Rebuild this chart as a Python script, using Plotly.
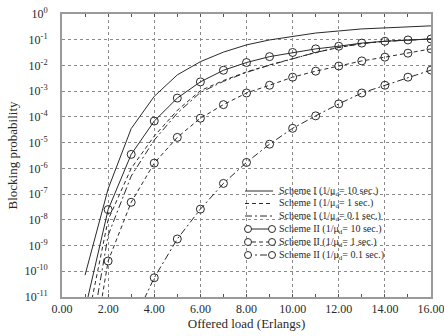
import plotly.graph_objects as go

# Offered load (Erlangs)
load = [1, 2, 3, 4, 5, 6, 7, 8, 9, 10, 11, 12, 13, 14, 15, 16]
load_II_01 = [3, 4, 5, 6, 7, 8, 9, 10, 11, 12, 13, 14, 15, 16]

# Blocking probability
scheme1_10s = [7.1e-11, 1.6e-7, 3.5e-5, 6.3e-4, 4.3e-3, 1.4e-2, 3.3e-2, 6.3e-2,
               9.8e-2, 0.138, 0.182, 0.219, 0.263, 0.288, 0.316, 0.347]
scheme1_1s = [4.0e-13, 1.0e-8, 1.0e-6, 1.8e-5, 1.8e-4, 1.05e-3, 2.6e-3, 5.6e-3,
              1.05e-2, 1.8e-2, 3.2e-2, 5.0e-2, 7.1e-2, 8.7e-2, 9.8e-2, 0.107]
scheme1_01s = [1.6e-14, 2.5e-9, 5.0e-7, 1.26e-5, 1.4e-4, 8.9e-4, 2.4e-3, 5.4e-3,
               1.02e-2, 1.78e-2, 3.2e-2, 5.0e-2, 7.1e-2, 8.7e-2, 9.8e-2, 0.107]
scheme2_10s = [3.2e-12, 2.5e-8, 3.5e-6, 6.9e-5, 5.4e-4, 2.3e-3, 6.5e-3, 1.3e-2,
               2.2e-2, 3.2e-2, 4.4e-2, 5.6e-2, 7.4e-2, 8.7e-2, 9.8e-2, 0.107]
scheme2_1s = [1.0e-15, 2.5e-10, 4.8e-8, 1.6e-6, 1.6e-5, 8.9e-5, 3.0e-4, 8.5e-4,
              1.7e-3, 3.5e-3, 6.0e-3, 9.5e-3, 1.5e-2, 2.1e-2, 3.0e-2, 4.4e-2]
scheme2_01s = [7.1e-13, 5.6e-11, 1.8e-9, 2.6e-8, 2.6e-7, 1.7e-6, 8.7e-6, 3.6e-5,
               1.1e-4, 3.2e-4, 8.5e-4, 1.7e-3, 3.5e-3, 6.6e-3]

legend_labels = [
    "Scheme I (1/μ<sub>d</sub>= 10 sec.)",
    "Scheme I (1/μ<sub>d</sub>= 1 sec.)",
    "Scheme I (1/μ<sub>d</sub>= 0.1 sec.)",
    "Scheme II (1/μ<sub>d</sub>= 10 sec.)",
    "Scheme II (1/μ<sub>d</sub>= 1 sec.)",
    "Scheme II (1/μ<sub>d</sub>= 0.1 sec.)",
]
y_tickvals = [1e-11, 1e-10, 1e-9, 1e-8, 1e-7, 1e-6, 1e-5, 1e-4, 1e-3, 1e-2, 1e-1, 1]
y_ticktext = ["10<sup>-11</sup>", "10<sup>-10</sup>", "10<sup>-9</sup>", "10<sup>-8</sup>",
              "10<sup>-7</sup>", "10<sup>-6</sup>", "10<sup>-5</sup>", "10<sup>-4</sup>",
              "10<sup>-3</sup>", "10<sup>-2</sup>", "10<sup>-1</sup>", "10<sup>0</sup>"]
x_tickvals = [0, 2, 4, 6, 8, 10, 12, 14, 16]

LC = "#2a2a2a"
FONT = "Liberation Serif"
DASH = "4px,3px"
DASHDOT = "7px,3px,2px,3px"

series = [
    (load, scheme1_10s, "solid", False),
    (load, scheme1_1s, DASH, False),
    (load, scheme1_01s, DASHDOT, False),
    (load, scheme2_10s, "solid", True),
    (load, scheme2_1s, DASH, True),
    (load_II_01, scheme2_01s, DASHDOT, True),
]

fig = go.Figure()
for (xs, ys, dash, mk), name in zip(series, legend_labels):
    fig.add_trace(go.Scatter(
        x=xs, y=ys, name=name,
        mode="lines+markers" if mk else "lines",
        line=dict(color=LC, width=1, dash=dash),
        marker=dict(symbol="circle-open", size=8, color=LC, line=dict(width=1, color=LC)),
        showlegend=False,
    ))

# Manual legend (layout only)
L, R, T, B = 62, 431, 14, 297
def px_x(p):
    return (p - L) / (R - L)
def px_y(p):
    return (B - p) / (B - T)

rows = [191, 203.5, 216, 229, 242, 255]
shapes = []
annotations = []
for row, (xs, ys, dash, mk), name in zip(rows, series, legend_labels):
    shapes.append(dict(type="line", xref="paper", yref="paper",
                       x0=px_x(245), x1=px_x(273), y0=px_y(row), y1=px_y(row),
                       line=dict(color=LC, width=1, dash=dash)))
    if mk:
        for cx in (248, 272):
            shapes.append(dict(type="circle", xref="paper", yref="paper",
                               xsizemode="pixel", ysizemode="pixel",
                               xanchor=px_x(cx), yanchor=px_y(row),
                               x0=-3.5, x1=3.5, y0=-3.5, y1=3.5,
                               line=dict(color=LC, width=1), fillcolor="white"))
    annotations.append(dict(xref="paper", yref="paper", x=px_x(277), y=px_y(row),
                            text=name, showarrow=False, xanchor="left", yanchor="middle",
                            font=dict(family=FONT, size=10, color=LC)))

fig.update_layout(
    width=444, height=336, autosize=False,
    margin=dict(l=L, r=444 - R, t=T, b=336 - B),
    paper_bgcolor="white", plot_bgcolor="white",
    font=dict(family=FONT, color=LC),
    shapes=shapes, annotations=annotations,
    showlegend=False,
)
fig.update_xaxes(
    range=[0, 16], tickvals=x_tickvals, tickformat=".2f",
    automargin=False, ticklabeloverflow="allow",
    showgrid=True, gridcolor="#8a8a8a", griddash="dot", gridwidth=1,
    showline=True, linecolor="#9a9a9a", linewidth=2, mirror="ticks",
    ticks="inside", ticklen=3, tickcolor="#555",
    minor=dict(dtick=1, ticks="inside", ticklen=3, tickcolor="#555", showgrid=False),
    tickfont=dict(family=FONT, size=12, color=LC),
    title=dict(text="Offered load (Erlangs)", font=dict(family=FONT, size=13, color=LC), standoff=2),
    zeroline=False,
)
fig.update_yaxes(
    type="log", range=[-11, 0], tickvals=y_tickvals, ticktext=y_ticktext,
    automargin=False,
    showgrid=True, gridcolor="#8a8a8a", griddash="dot", gridwidth=1,
    showline=True, linecolor="#9a9a9a", linewidth=2, mirror=True,
    ticks="", ticklabelstandoff=10,
    tickfont=dict(family=FONT, size=12, color=LC),
    title=dict(text="Blocking probability", font=dict(family=FONT, size=13, color=LC), standoff=4),
    zeroline=False,
)

fig.write_html("out.html", config={"displayModeBar": False},
               post_script="document.body.style.margin='0';")
